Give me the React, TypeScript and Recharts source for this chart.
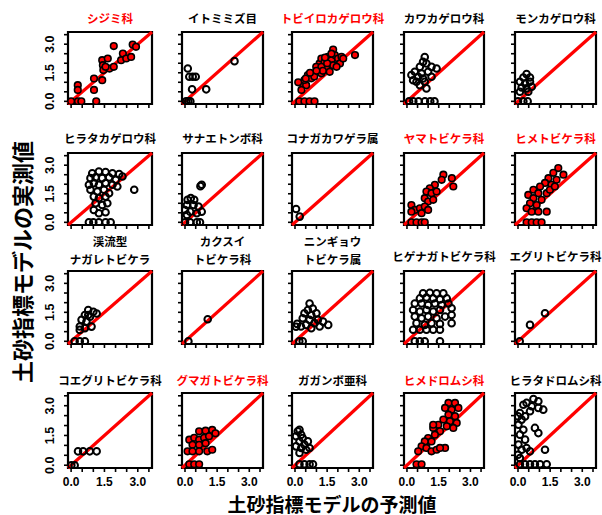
import React from "react";
import { ScatterChart, Scatter, XAxis, YAxis, ReferenceLine, ReferenceArea } from "recharts";

type Pt = [number, number];

// ---- tick values / labels ----
const TICKS = [0, 0.5, 1, 1.5, 2, 2.5, 3, 3.5];
const LABELED = [0, 1.5, 3];
const LO = -0.14;
const HI = 3.64;

// ---- panel titles (row-major) ----
const titles: string[][] = [
  ["シジミ科"], ["イトミミズ目"], ["トビイロカゲロウ科"], ["カワカゲロウ科"], ["モンカゲロウ科"],
  ["ヒラタカゲロウ科"], ["サナエトンボ科"], ["コナガカワゲラ属"], ["ヤマトビケラ科"], ["ヒメトビケラ科"],
  ["渓流型", "ナガレトビケラ"], ["カクスイ", "トビケラ科"], ["ニンギョウ", "トビケラ属"], ["ヒゲナガトビケラ科"], ["エグリトビケラ科"],
  ["コエグリトビケラ科"], ["グマガトビケラ科"], ["ガガンボ亜科"], ["ヒメドロムシ科"], ["ヒラタドロムシ科"],
];
const redPanels = [true, false, true, false, false, false, false, false, true, true, false, false, false, false, false, false, true, false, true, false];

// ---- series values: [predicted, observed] ----
const shijimi: Pt[] = [[0.0,0],[0.31,0],[0.46,0],[1.13,0],[0.3,0.85],[0.3,0.6],[1.03,1.2],[1.03,0.6],[1.4,1.11],[1.4,2.16],[1.43,1.9],[1.45,1.64],[1.65,2.25],[1.73,1.72],[1.92,1.81],[1.92,2.9],[2.33,2.51],[2.25,2.16],[2.48,2.25],[2.7,2.33],[2.77,2.98],[2.92,2.86],[1.55,1.81]];
const itomimizu: Pt[] = [[0.13,1.72],[0.2,1.29],[0.36,1.29],[0.5,1.29],[0.33,0.63],[0.99,0.63],[2.31,2.11],[0.05,0],[0.15,0],[0.25,0]];
const tobiiro: Pt[] = [[0.36,0.94],[0.52,0.85],[0.44,1.12],[0.6,1.38],[0.76,1.21],[0.91,1.47],[1.07,1.73],[1.15,1.99],[1.23,2.25],[1.38,2.07],[1.54,2.34],[1.7,2.16],[1.86,2.43],[2.01,2.25],[2.1,1.99],[1.78,1.9],[1.46,1.73],[1.23,1.47],[0.99,1.81],[1.23,1.81],[1.62,1.55],[1.94,1.81],[2.17,2.34],[2.25,2.25],[1.78,2.72],[2.8,2.43],[0.2,0],[0.44,0],[0.68,0],[0.91,0],[0.3,0.6],[0.15,1.0],[0.9,1.3],[1.3,1.6],[1.5,2.0],[1.0,1.6],[0.7,1.5],[1.7,2.5],[1.4,2.3],[0.5,1.2]];
const kawakagerou: Pt[] = [[0.84,2.33],[0.76,2.07],[0.92,1.99],[0.61,1.81],[1.16,1.81],[1.4,1.72],[0.21,1.38],[0.37,1.55],[0.53,1.29],[0.69,1.46],[1.0,1.55],[0.45,1.03],[0.61,0.85],[0.84,1.03],[0.92,0.68],[0.29,1.11],[0.76,1.2],[1.16,1.29],[0.1,0],[0.3,0],[0.55,0],[0.85,0],[1.1,0],[1.3,0]];
const monkagerou: Pt[] = [[0.4,1.43],[0.25,1.25],[0.56,1.25],[0.09,1.03],[0.33,0.94],[0.56,1.03],[0.17,0.73],[0.4,0.68],[0.64,0.77],[0.09,0.5],[0.48,0.5],[0.0,0],[0.25,0],[0.45,0]];
const hiratakagerou: Pt[] = [[0.95,2.58],[1.25,2.67],[1.55,2.64],[1.86,2.58],[2.16,2.53],[2.31,2.41],[0.87,2.32],[1.1,2.36],[1.4,2.32],[1.71,2.36],[2.01,2.23],[0.8,1.97],[1.02,2.06],[1.25,1.97],[1.55,2.06],[1.86,1.97],[2.08,1.88],[0.87,1.71],[1.18,1.62],[1.48,1.71],[1.71,1.53],[1.02,1.35],[1.25,1.27],[1.55,1.35],[1.1,1.0],[1.4,0.91],[1.63,1.0],[1.02,0.65],[1.25,0.48],[1.55,0.53],[2.84,1.71],[0.8,0],[1.0,0],[1.25,0],[1.55,0],[1.78,0]];
const sanae: Pt[] = [[0.78,1.97],[0.72,1.9],[0.12,1.18],[0.27,1.27],[0.43,1.18],[0.09,0.91],[0.4,0.91],[0.63,0.83],[0.24,0.56],[0.55,0.48],[0.78,0.56],[0.09,0.39],[0.0,0.65],[0.0,0],[0.24,0],[0.55,0],[0.7,0]];
const konaga: Pt[] = [[0.05,0.7],[0.22,0.3]];
const yamato: Pt[] = [[1.72,2.5],[2.12,2.32],[2.19,1.88],[1.64,2.23],[1.32,1.97],[1.08,1.79],[0.92,1.62],[1.16,1.53],[1.4,1.62],[0.84,1.27],[1.0,1.09],[1.24,1.18],[0.21,0.91],[0.37,0.65],[0.61,0.74],[0.84,0.83],[0.69,0.48],[1.0,0.65],[0.21,0.56],[0.21,0],[0.45,0],[0.69,0],[0.84,0]];
const hime: Pt[] = [[1.88,2.85],[2.12,2.5],[1.65,2.6],[1.42,2.32],[1.8,2.23],[1.56,1.97],[1.26,2.07],[1.03,1.88],[0.72,1.71],[0.95,1.53],[1.34,1.53],[0.48,1.44],[0.72,1.27],[1.1,1.18],[0.56,1.0],[0.87,0.91],[0.4,0.74],[0.64,0.56],[0.95,0.56],[1.34,0.56],[1.49,1.71],[1.72,1.88],[0.4,0],[0.64,0],[0.87,0],[1.1,0]];
const keiryu: Pt[] = [[0.77,1.62],[1.0,1.53],[0.62,1.36],[0.85,1.27],[0.47,1.11],[0.69,1.02],[0.39,0.77],[0.62,0.68],[0.92,0.76],[0.39,0.59],[0.77,1.36],[1.15,1.44],[0.16,0],[0.39,0],[0.62,0]];
const kakusui: Pt[] = [[1.06,1.14],[0.16,0]];
const ningyou: Pt[] = [[0.68,1.96],[0.83,1.7],[0.6,1.62],[0.44,1.45],[0.76,1.36],[1.0,1.45],[0.36,1.19],[0.68,1.11],[1.07,1.11],[0.91,0.94],[1.31,1.02],[1.55,0.85],[0.52,0.85],[0.28,0.77],[0.76,0.68],[1.15,0.77],[0.1,0.9],[0.05,0.75],[0.2,0],[0.36,0]];
const higenaga: Pt[] = [[0.76,2.48],[1.08,2.51],[1.4,2.48],[1.72,2.48],[0.61,2.22],[0.92,2.27],[1.24,2.22],[1.56,2.17],[1.88,2.22],[0.37,1.96],[0.69,1.96],[1.0,1.88],[1.32,1.96],[1.64,1.88],[1.96,1.96],[0.29,1.62],[0.61,1.54],[0.92,1.62],[1.24,1.54],[1.56,1.62],[2.11,1.71],[0.37,1.28],[0.69,1.19],[1.0,1.28],[1.4,1.19],[1.8,1.28],[2.11,1.36],[0.45,0.94],[0.84,0.85],[1.16,0.94],[1.56,0.9],[2.11,0.94],[0.29,0.6],[0.61,0.6],[0.92,0.6],[1.24,0.6],[1.56,0.6],[0.37,0],[0.61,0],[0.84,0],[1.56,0]];
const eguri: Pt[] = [[1.26,1.45],[0.56,0.85],[0.08,0]];
const koeguri: Pt[] = [[0.31,0.7],[0.54,0.7],[0.84,0.7],[1.15,0.7],[0.01,0],[0.16,0]];
const gumaga: Pt[] = [[0.66,1.71],[0.96,1.74],[1.27,1.78],[1.42,1.61],[0.2,1.29],[0.43,1.38],[0.66,1.29],[0.89,1.38],[1.12,1.46],[0.35,1.03],[0.66,1.03],[0.96,1.11],[0.12,0.7],[0.35,0.7],[0.66,0.7],[1.04,0.7],[1.27,0.78],[0.2,0.05],[0.43,0.05],[0.66,0.05]];
const gaganbo: Pt[] = [[0.21,1.79],[0.29,1.54],[0.36,1.37],[0.21,1.2],[0.44,1.04],[0.29,0.87],[0.52,0.78],[0.21,0.62],[0.05,0.95],[0.6,1.2],[0.05,1.46],[0.13,1.71],[0.68,0.87],[0.21,0.05],[0.44,0.05],[0.68,0.05],[0.84,0.05]];
const himedoro: Pt[] = [[1.96,3.14],[2.27,3.14],[1.8,2.89],[2.11,2.8],[2.43,2.89],[1.96,2.55],[2.27,2.47],[1.72,2.3],[2.03,2.21],[2.35,2.13],[1.48,2.04],[1.88,1.96],[1.24,1.88],[1.56,1.71],[1.32,1.54],[1.0,1.37],[1.16,1.2],[0.84,1.2],[0.69,0.95],[0.92,0.87],[1.16,0.7],[1.4,0.78],[1.8,0.87],[1.56,0.87],[0.53,0.7],[1.24,2.04],[2.19,1.88],[0.45,0.05],[0.69,0.05]];
const hiratadoro: Pt[] = [[0.72,3.34],[0.95,3.22],[0.4,3.14],[0.64,2.97],[0.95,2.89],[1.18,2.8],[0.56,2.72],[0.25,3.05],[0.09,2.63],[0.17,2.3],[0.02,2.04],[0.25,1.79],[0.09,1.54],[0.33,1.29],[0.02,1.04],[0.17,0.78],[0.4,0.87],[0.56,0.7],[0.0,0.53],[0.09,0.36],[0.79,1.88],[0.95,1.62],[1.26,0.78],[0.0,2.46],[0.33,2.46],[0.09,0.05],[0.33,0.05],[0.56,0.05],[0.79,0.05],[1.03,0.05],[1.34,0.05]];

const series: Pt[][] = [
  shijimi, itomimizu, tobiiro, kawakagerou, monkagerou,
  hiratakagerou, sanae, konaga, yamato, hime,
  keiryu, kakusui, ningyou, higenaga, eguri,
  koeguri, gumaga, gaganbo, himedoro, hiratadoro,
];

// ---- layout ----
const colLeft = [68, 182, 292, 404, 515];
const colWidth = [84, 81, 81, 80, 81];
const rowTop = [32, 153, 271, 393];
const rowHeight = [72, 72, 73, 75];
const PAD_L = 30, PAD_R = 5, PAD_T = 5, PAD_B = 26;
const TITLE_FONT = "'Noto Sans CJK JP', 'Noto Sans', sans-serif";
const NUM_FONT = "'Liberation Sans', Arial, sans-serif";

function Panel({ idx }: { idx: number }) {
  const row = Math.floor(idx / 5);
  const col = idx % 5;
  const w = colWidth[col] + PAD_L + PAD_R;
  const h = rowHeight[row] + PAD_T + PAD_B;
  const red = redPanels[idx];
  const data = series[idx].map(([x, y]) => ({ x, y }));
  const showX = row === 3;
  const showY = col === 0;
  const boxBottom = PAD_T + rowHeight[row];

  const xTick = (p: any) => {
    const v = p.payload.value;
    if (!showX || !LABELED.includes(v)) return <g />;
    return (
      <text x={p.x} y={boxBottom + 13.5} textAnchor="middle" dominantBaseline="central"
        fontFamily={NUM_FONT} fontWeight={700} fontSize={12} fill="#000">{v.toFixed(1)}</text>
    );
  };
  const yTick = (p: any) => {
    const v = p.payload.value;
    if (!showY || !LABELED.includes(v)) return <g />;
    const x = PAD_L - 18;
    return (
      <text x={x} y={p.y} transform={`rotate(-90 ${x} ${p.y})`} textAnchor="middle" dominantBaseline="central"
        fontFamily={NUM_FONT} fontWeight={700} fontSize={12.5} fill="#000">{v.toFixed(1)}</text>
    );
  };

  return (
    <div style={{ position: "absolute", left: colLeft[col] - PAD_L, top: rowTop[row] - PAD_T }}>
      <ScatterChart width={w} height={h} margin={{ top: PAD_T, right: PAD_R, left: 0, bottom: 0 }}>
        <XAxis type="number" dataKey="x" domain={[LO, HI]} ticks={TICKS} interval={0} allowDataOverflow
          height={PAD_B} tickSize={4} axisLine={false} tickLine={{ stroke: "#000", strokeWidth: 1.6 }} tick={xTick} />
        <YAxis type="number" dataKey="y" domain={[LO, HI]} ticks={TICKS} interval={0} allowDataOverflow
          width={PAD_L} tickSize={4} axisLine={false} tickLine={{ stroke: "#000", strokeWidth: 1.6 }} tick={yTick} />
        <ReferenceArea x1={LO} x2={HI} y1={LO} y2={HI} fill="none" fillOpacity={0} stroke="#000" strokeWidth={2.2} strokeOpacity={1} />
        <Scatter data={data} isAnimationActive={false}
          shape={(p: any) => <circle cx={p.cx} cy={p.cy} r={3.3} fill={red ? "#ff0000" : "none"} stroke="#000" strokeWidth={red ? 1.6 : 2} />} />
        <ReferenceLine segment={[{ x: LO, y: LO }, { x: HI, y: HI }]} stroke="#ff0000" strokeWidth={3.2} />
      </ScatterChart>
    </div>
  );
}

function titleY(row: number): number[] {
  if (row === 0) return [18];
  if (row === 1) return [138];
  if (row === 2) return [256];
  return [380];
}

export default function App() {
  return (
    <div style={{ position: "absolute", left: 0, top: 0, width: 602, height: 515, background: "#fff", overflow: "hidden" }}>
      <svg width={602} height={515} style={{ position: "absolute", left: 0, top: 0 }}>
        {titles.map((lines, i) => {
          const row = Math.floor(i / 5);
          const col = i % 5;
          const cx = colLeft[col] + colWidth[col] / 2;
          const ys = lines.length === 2 ? [241, 259] : titleY(row);
          return lines.map((t, j) => (
            <text key={`${i}-${j}`} x={cx} y={ys[j]} textAnchor="middle" dominantBaseline="central"
              fontFamily={TITLE_FONT} fontWeight={700} fontSize={11.5} fill={redPanels[i] ? "#ff0000" : "#000"}>{t}</text>
          ));
        })}
        <text x={21} y={262} transform="rotate(-90 21 262)" textAnchor="middle" dominantBaseline="central"
          fontFamily={TITLE_FONT} fontWeight={700} fontSize={22} fill="#000">土砂指標モデルの実測値</text>
        <text x={332} y={503} textAnchor="middle" dominantBaseline="central"
          fontFamily={TITLE_FONT} fontWeight={700} fontSize={19} fill="#000">土砂指標モデルの予測値</text>
      </svg>
      {series.map((_, i) => <Panel key={i} idx={i} />)}
    </div>
  );
}
